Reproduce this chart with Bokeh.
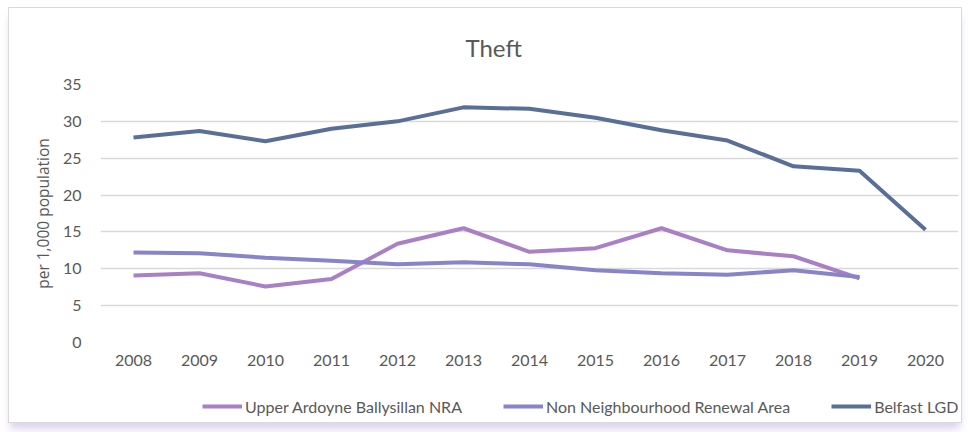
from bokeh.plotting import figure
from bokeh.layouts import column
from bokeh.models import Legend, LegendItem, FixedTicker, Range1d, Title
from bokeh.embed import file_html
from bokeh.resources import INLINE

years = [2008, 2009, 2010, 2011, 2012, 2013, 2014, 2015, 2016, 2017, 2018, 2019, 2020]
upper_ardoyne = [9.1, 9.4, 7.6, 8.6, 13.4, 15.5, 12.3, 12.8, 15.5, 12.5, 11.7, 8.7]
non_nra = [12.2, 12.1, 11.5, 11.1, 10.6, 10.9, 10.6, 9.8, 9.4, 9.2, 9.8, 8.9]
belfast = [27.8, 28.7, 27.3, 29.0, 30.0, 31.9, 31.7, 30.5, 28.8, 27.4, 23.9, 23.3, 15.3]
series_names = ["Upper Ardoyne Ballysillan NRA", "Non Neighbourhood Renewal Area", "Belfast LGD"]
series_colors = ["#A97FC6", "#8884CA", "#5A6F98"]
y_ticks = [0, 5, 10, 15, 20, 25, 30, 35]

FONT = "Lato"
TXT = "#595959"

p = figure(frame_width=858, frame_height=258, output_backend="svg", toolbar_location=None,
           x_range=Range1d(2007.5, 2020.5), y_range=Range1d(0, 35),
           min_border_left=91, min_border_right=3, min_border_top=73, min_border_bottom=40)
p.outline_line_color = None
p.border_fill_color = "white"

t = Title(text="Theft", align="left", offset=365, text_font=FONT, text_font_size="24px",
          text_color=TXT, text_font_style="normal", standoff=45)
p.add_layout(t, "above")

series = [upper_ardoyne, non_nra, belfast]
for vals, col in zip(series, series_colors):
    p.line(years[:len(vals)], vals, line_color=col, line_width=4)

p.xaxis.ticker = FixedTicker(ticks=years)
p.yaxis.ticker = FixedTicker(ticks=y_ticks)
for ax in (p.xaxis[0], p.yaxis[0]):
    ax.axis_line_color = None
    ax.major_tick_line_color = None
    ax.minor_tick_line_color = None
    ax.major_label_text_font = FONT
    ax.major_label_text_font_size = "16px"
    ax.major_label_text_color = TXT
p.xaxis.major_label_standoff = 6
p.yaxis.major_label_standoff = 13
p.yaxis.axis_label = "per 1,000 population"
p.yaxis.axis_label_text_font = "Open Sans"
p.yaxis.axis_label_text_font_size = "15.5px"
p.yaxis.axis_label_text_font_style = "normal"
p.yaxis.axis_label_text_color = TXT
p.yaxis.axis_label_standoff = 6

p.xgrid.grid_line_color = None
p.ygrid.grid_line_color = "#D9D9D9"
p.ygrid.grid_line_width = 1.5

# Legend strip: the same series drawn outside its visible range, only the legend shows
lg = figure(width=952, height=40, output_backend="svg", toolbar_location=None,
            x_range=Range1d(0, 1), y_range=Range1d(0, 1),
            x_axis_type=None, y_axis_type=None,
            min_border_left=0, min_border_right=0, min_border_top=0, min_border_bottom=0)
lg.outline_line_color = None
lg.grid.grid_line_color = None
lg.border_fill_color = "white"
items = []
for name, vals, col in zip(series_names, series, series_colors):
    r = lg.line(years[:len(vals)], vals, line_color=col, line_width=4)
    items.append(LegendItem(label=name, renderers=[r]))

legend = Legend(items=items, orientation="horizontal", location=(102, 6),
                label_text_font=FONT, label_text_font_size="16px", label_text_color=TXT,
                glyph_width=40, glyph_height=20, label_height=20, label_standoff=3,
                spacing=41, border_line_color=None,
                background_fill_alpha=0, margin=0, padding=0)
lg.add_layout(legend, "center")

layout = column(p, lg, spacing=0,
                styles={"margin-left": "8px", "margin-top": "7px",
                        "border": "1px solid #D9D9D9",
                        "box-shadow": "0px 8px 8px -2px rgba(200,180,225,0.6)"})

open("out.html", "w").write(file_html(layout, INLINE))
